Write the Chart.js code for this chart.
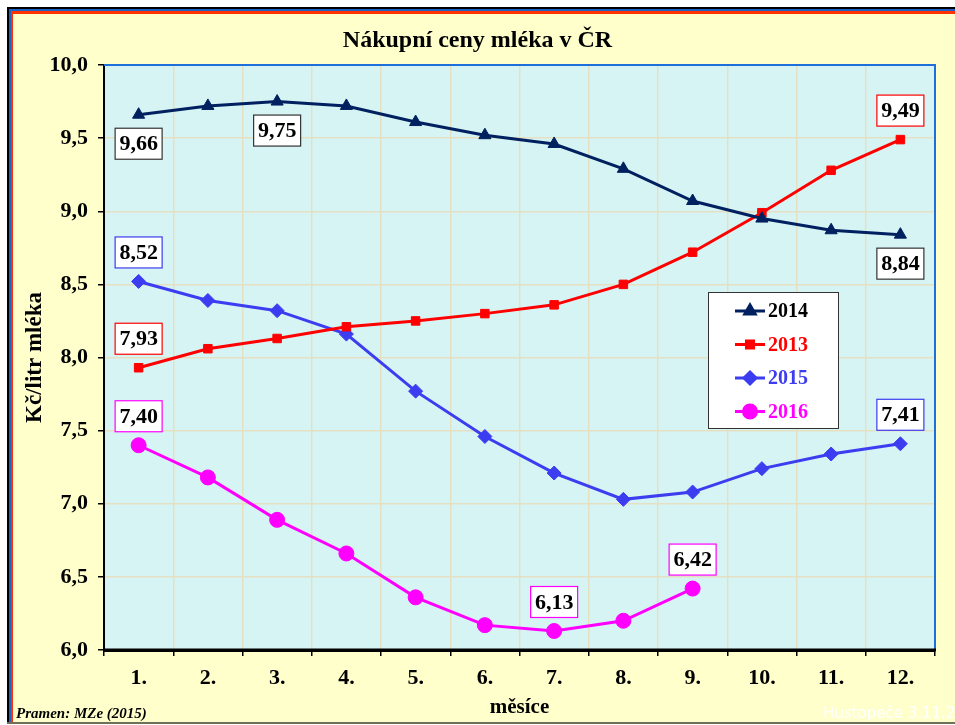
<!DOCTYPE html>
<html><head><meta charset="utf-8">
<script src="https://cdn.jsdelivr.net/npm/chart.js@4.4.1/dist/chart.umd.min.js"></script>
<style>html,body{margin:0;padding:0;background:#fff;}#wrap{width:955px;height:725px;position:relative;}</style>
</head><body><div id="wrap"><canvas id="c" width="955" height="725"></canvas></div>
<script>
const months = ['1.','2.','3.','4.','5.','6.','7.','8.','9.','10.','11.','12.'];
const y2014 = [9.66, 9.72, 9.75, 9.72, 9.61, 9.52, 9.46, 9.29, 9.07, 8.95, 8.87, 8.84];
const y2013 = [7.93, 8.06, 8.13, 8.21, 8.25, 8.30, 8.36, 8.50, 8.72, 8.99, 9.28, 9.49];
const y2015 = [8.52, 8.39, 8.32, 8.16, 7.77, 7.46, 7.21, 7.03, 7.08, 7.24, 7.34, 7.41];
const y2016 = [7.40, 7.18, 6.89, 6.66, 6.36, 6.17, 6.13, 6.20, 6.42];
const seriesNames = ['2014','2013','2015','2016'];
const yTicks = [6.0, 6.5, 7.0, 7.5, 8.0, 8.5, 9.0, 9.5, 10.0];
const titleText = 'Nákupní ceny mléka v ČR';
const yTitle = 'Kč/litr mléka';
const xTitle = 'měsíce';
const sourceText = 'Pramen: MZe (2015)';
const footerText = 'Hustopeče 3.11.2015';
// labelled points: [series index, point index, vertical offset direction]
const labelled = [[0,0,1],[0,2,1],[0,11,1],[1,11,-1],[1,0,-1],[2,0,-1],[2,11,-1],[3,0,-1],[3,6,-1],[3,8,-1]];

const colors = ['#002060','#FF0000','#3C3CF0','#FF00FF'];
const legendTextColors = ['#000000','#FF0000','#3C3CF0','#FF00FF'];
const styles = ['triangle','rect','rectRot','circle'];
const radii = [7,6,7,7.5];
const SERIF = '"Liberation Serif", "Times New Roman", serif';

const fmt = v => v.toFixed(2).replace('.', ',');

const framePlugin = {
  id: 'frame',
  beforeDraw(chart) {
    const ctx = chart.ctx, W = chart.width, H = chart.height;
    ctx.save();
    ctx.fillStyle = '#ffffff'; ctx.fillRect(0,0,W,H);
    ctx.fillStyle = '#FFFFCC'; ctx.fillRect(7,7,W-7,H-8);
    ctx.fillStyle = '#000000'; ctx.fillRect(7,7,W-7,2); ctx.fillRect(7,7,2,H-10);
    ctx.fillStyle = '#1F5FC8'; ctx.fillRect(9,9,W-9,2); ctx.fillRect(9,9,2,H-12);
    ctx.fillStyle = '#FF3300'; ctx.fillRect(11,11,W-11,3); ctx.fillRect(11,11,2,H-14);
    ctx.fillStyle = '#707058'; ctx.fillRect(7,H-3,W-7,2);
    const a = chart.chartArea;
    ctx.fillStyle = '#D6F4F4';
    ctx.fillRect(a.left, a.top, a.right-a.left, a.bottom-a.top);
    ctx.restore();
  },
  afterDraw(chart) {
    const ctx = chart.ctx, a = chart.chartArea;
    ctx.save();
    ctx.strokeStyle = '#1E6FD9'; ctx.lineWidth = 2;
    ctx.beginPath();
    ctx.moveTo(a.left, a.top); ctx.lineTo(a.right, a.top); ctx.lineTo(a.right, a.bottom);
    ctx.stroke();
    ctx.strokeStyle = '#000'; ctx.lineWidth = 3;
    ctx.beginPath(); ctx.moveTo(a.left-1, a.bottom); ctx.lineTo(a.right+1, a.bottom); ctx.stroke();
    ctx.fillStyle = '#000';
    ctx.font = 'italic bold 15px ' + SERIF;
    ctx.textBaseline = 'alphabetic'; ctx.textAlign = 'left';
    ctx.fillText(sourceText, 16, 718);
    ctx.fillStyle = '#FFFFFF';
    ctx.font = '15px "DejaVu Sans", sans-serif';
    ctx.fillText(footerText, 823, 718);
    ctx.restore();
  },
  afterDatasetsDraw(chart) {
    const ctx = chart.ctx;
    ctx.save();
    ctx.font = 'bold 22px ' + SERIF;
    ctx.textAlign = 'center'; ctx.textBaseline = 'middle';
    labelled.forEach(([s, i, dir]) => {
      const el = chart.getDatasetMeta(s).data[i];
      const v = chart.data.datasets[s].data[i];
      const cx = el.x, cy = el.y + dir * 29;
      const w = 47, h = 31;
      ctx.fillStyle = '#ffffff';
      ctx.fillRect(cx - w/2, cy - h/2, w, h);
      ctx.strokeStyle = s === 0 ? '#333333' : colors[s];
      ctx.lineWidth = 1.2;
      ctx.strokeRect(cx - w/2, cy - h/2, w, h);
      ctx.fillStyle = '#000';
      ctx.fillText(fmt(v), cx, cy + 1);
    });
    const lx = 708, ly = 292, lw = 130, lh = 136;
    ctx.fillStyle = '#ffffff'; ctx.fillRect(lx, ly, lw, lh);
    ctx.strokeStyle = '#333'; ctx.lineWidth = 1; ctx.strokeRect(lx+0.5, ly+0.5, lw, lh);
    ctx.textAlign = 'left'; ctx.font = 'bold 20px ' + SERIF;
    seriesNames.forEach((n, k) => {
      const yy = ly + 19 + k * 33.5;
      ctx.strokeStyle = colors[k]; ctx.lineWidth = 3;
      ctx.beginPath(); ctx.moveTo(lx + 27, yy); ctx.lineTo(lx + 57, yy); ctx.stroke();
      ctx.fillStyle = colors[k];
      Chart.helpers.drawPoint(ctx, {pointStyle: styles[k], radius: radii[k]-1, borderWidth: 1}, lx + 42, yy);
      ctx.fillStyle = legendTextColors[k];
      ctx.fillText(n, lx + 60, yy + 1);
    });
    ctx.restore();
  }
};

const series = [y2014, y2013, y2015, y2016];
const datasets = series.map((d, k) => ({
  label: seriesNames[k],
  data: d,
  borderColor: colors[k],
  backgroundColor: colors[k],
  borderWidth: 3,
  pointStyle: styles[k],
  pointRadius: radii[k],
  pointHoverRadius: radii[k],
  pointBorderWidth: 1,
  tension: 0,
  clip: false
}));

new Chart(document.getElementById('c'), {
  type: 'line',
  data: { labels: months, datasets },
  options: {
    responsive: false,
    animation: false,
    events: [],
    layout: { padding: { left: 20, right: 20, top: 14, bottom: 5 } },
    plugins: {
      legend: { display: false },
      tooltip: { enabled: false },
      title: {
        display: true, text: titleText, color: '#000',
        font: { family: SERIF, size: 24, weight: 'bold', lineHeight: 1.2 },
        padding: { top: 12, bottom: 10.2 }
      }
    },
    scales: {
      x: {
        type: 'category',
        offset: true,
        afterFit(s) { s.height = 70; },
        grid: { offset: true, color: '#E6E0C2', tickColor: '#000', tickLength: 6, lineWidth: 1.5 },
        border: { color: '#000', width: 3 },
        ticks: { color: '#000', padding: 9, font: { family: SERIF, size: 22, weight: 'bold' } },
        title: { display: true, text: xTitle, color: '#000', padding: { top: 0, bottom: 0 },
          font: { family: SERIF, size: 21, weight: 'bold', lineHeight: 1.2 } }
      },
      y: {
        min: 6, max: 10,
        afterFit(s) { s.width = 84; },
        afterBuildTicks(s) { s.ticks = yTicks.map(v => ({ value: v })); },
        grid: { color: '#E6E0C2', tickColor: '#000', tickLength: 6, lineWidth: 1.5 },
        border: { color: '#000', width: 2 },
        ticks: { color: '#000', padding: 10, callback: v => v.toFixed(1).replace('.', ','),
          font: { family: SERIF, size: 22, weight: 'bold' } },
        title: { display: true, text: yTitle, color: '#000', padding: { top: 1, bottom: 0 },
          font: { family: SERIF, size: 23, weight: 'bold', lineHeight: 1.2 } }
      }
    }
  },
  plugins: [framePlugin]
});
</script>
</body></html>
